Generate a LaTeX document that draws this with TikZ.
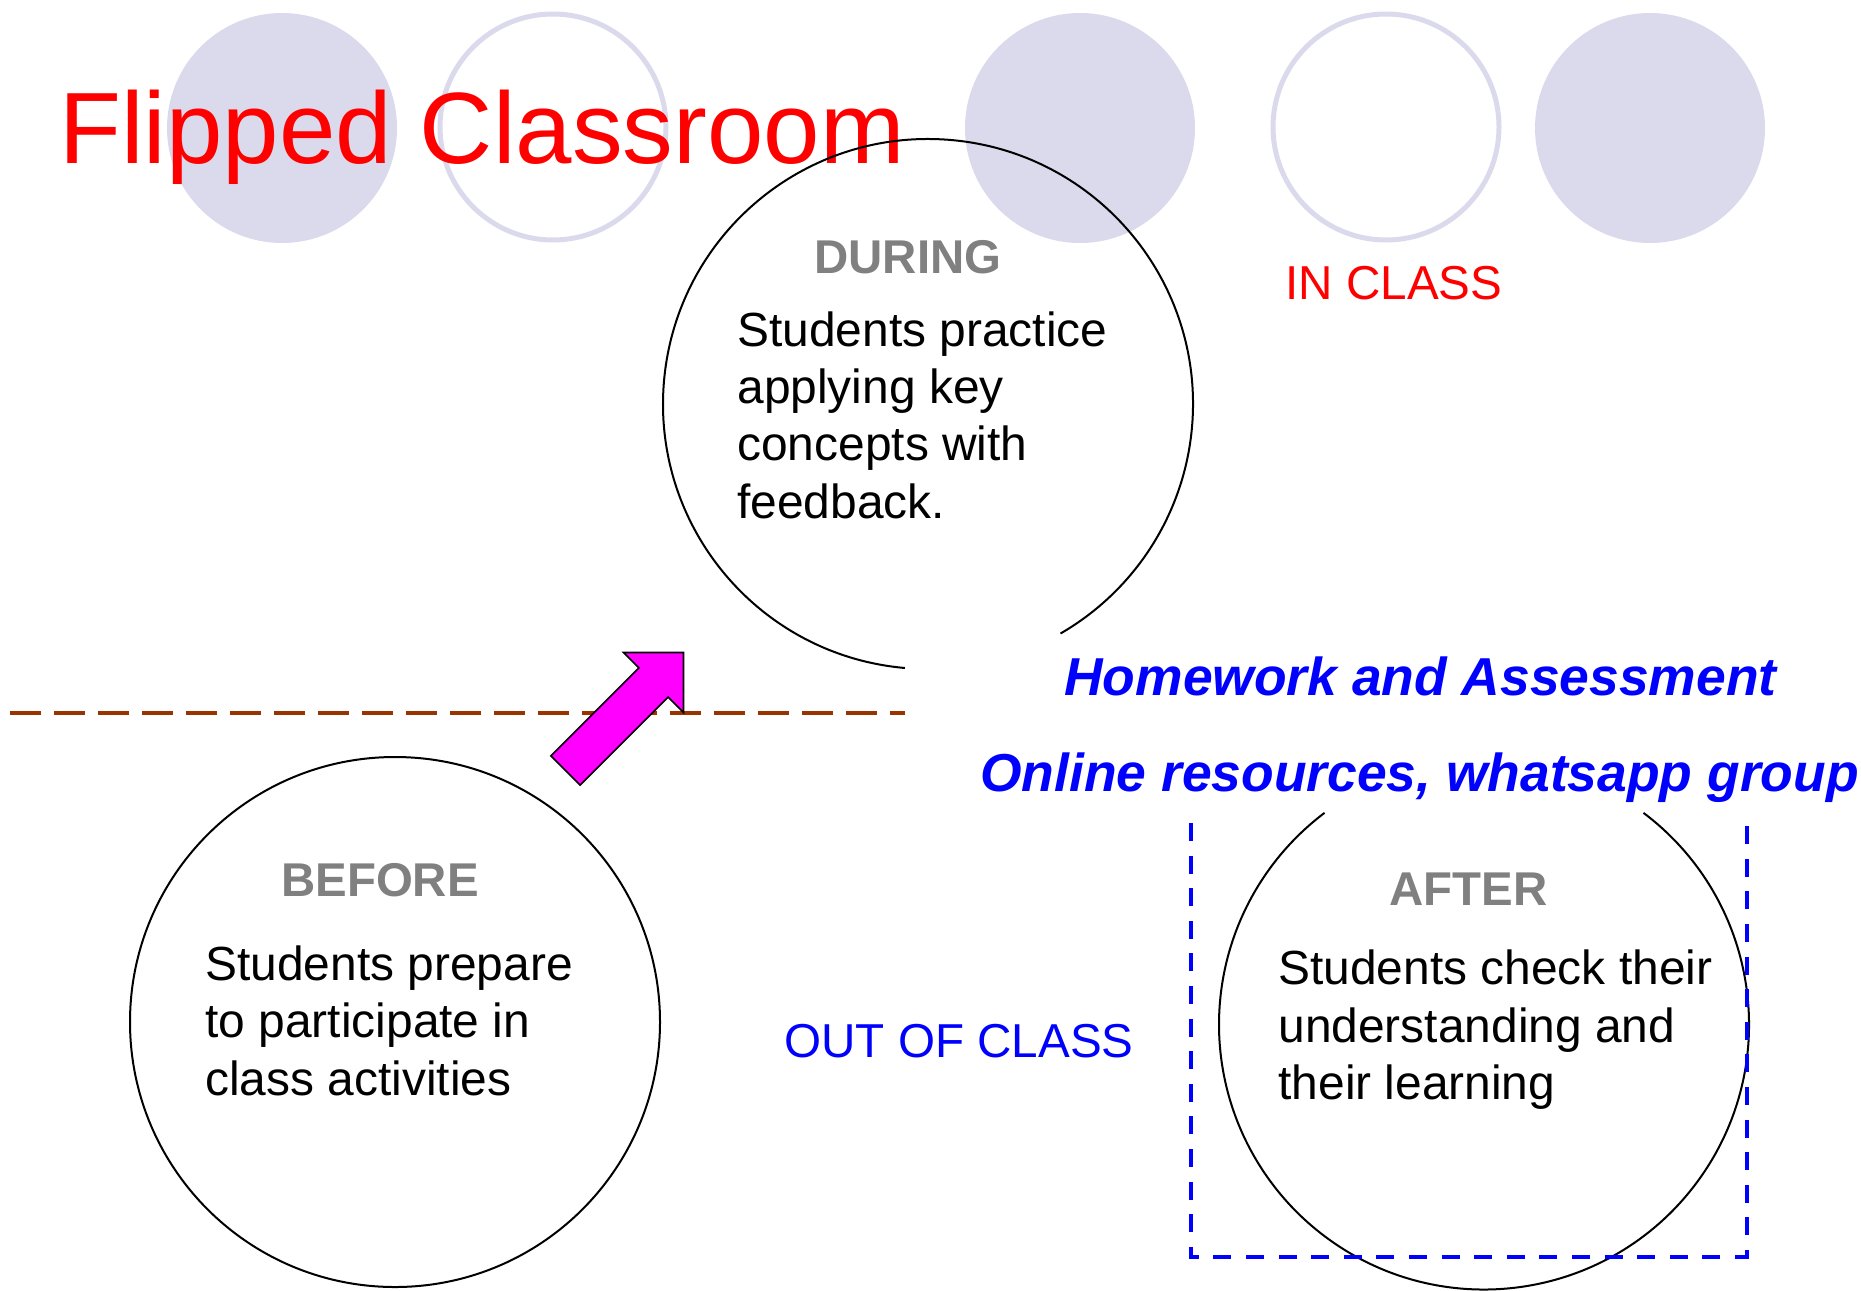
\documentclass[tikz,border=0pt]{standalone}
\usepackage{fontspec}
\setmainfont{Liberation Sans}
\definecolor{lavender}{RGB}{218,218,236}
\definecolor{tagGray}{RGB}{128,128,128}
\definecolor{rust}{RGB}{153,51,0}
\definecolor{pinkish}{RGB}{255,0,255}

\begin{document}
\begin{tikzpicture}[x=0.5pt, y=-0.5pt]
\tikzstyle{dot} = [fill=lavender]
\tikzstyle{ring} = [draw=lavender, line width=2.5pt]
\tikzstyle{phase} = [draw=black, line width=1pt]
\tikzstyle{tag} = [inner sep=0, anchor=base, text=tagGray, font=\fontsize{23.7}{28.6}\selectfont\bfseries]
% multi-line nodes sit on the baseline of their last line
\tikzstyle{body} = [inner sep=0, anchor=base west, align=left, font=\fontsize{23.95}{28.65}\selectfont]
\tikzstyle{where} = [inner sep=0, anchor=base west, font=\fontsize{23.8}{28.6}\selectfont]
\tikzstyle{extra} = [inner sep=0, anchor=base west, text=blue, font=\fontsize{26.7}{32}\selectfont\bfseries\itshape]
\tikzstyle{divider} = [draw=rust, line width=2pt, dash pattern=on 15.8pt off 6.2pt]
\tikzstyle{outside} = [draw=blue, line width=2pt, dash pattern=on 9pt off 7.3pt]
\tikzstyle{bigarrow} = [fill=pinkish, draw=black, line width=0.8pt]
\useasboundingbox (0,0) rectangle (1861,1290);

% dots along the top
\fill[dot] (282,128) circle (115);
\draw[ring] (553,127) circle (113);
\fill[dot] (1080,128) circle (115);
\draw[ring] (1386,127) circle (113);
\fill[dot] (1650,128) circle (115);

\node[inner sep=0, anchor=base west, text=red, font=\fontsize{50.7}{60}\selectfont] (title) at (59,163) {Flipped Classroom};

% the three phases
\coordinate (during) at (928,404);
\coordinate (before) at (395,1022);
\coordinate (after) at (1484,1024.5);
\draw[phase] ([shift={(95:265)}]during) arc[start angle=95, end angle=420, radius=265];
\draw[phase] (before) circle (265);
\draw[phase] ([shift={(-53:265)}]after) arc[start angle=-53, end angle=233, radius=265];

\node[tag] (during tag) at (908,273) {DURING};
\node[body] (during text) at (737,518) {Students practice\\applying key\\concepts with\\feedback.};
\node[tag] (before tag) at (380,896) {BEFORE};
\node[body] (before text) at (205,1095) {Students prepare\\to participate in\\class activities};
\node[tag] (after tag) at (1468.5,905.5) {AFTER};
\node[body] (after text) at (1278,1099.5) {Students check their\\understanding and\\their learning};

\node[where, text=red] (in class) at (1285,299) {IN CLASS};
\node[where, text=blue] (out class) at (784,1057) {OUT OF CLASS};

% class / home split
\coordinate (rule a) at (9.5,713);
\coordinate (rule b) at (905,713);
\draw[divider] (rule a) -- (rule b);

\fill[bigarrow] (550.9,755.9) -- (638.9,667.9) -- (623.5,652.5) -- (683.5,652.5)
  -- (683.5,712.5) -- (668.1,697.1) -- (580.1,785.1) -- cycle;

% homework box
\draw[outside] (1190.5,823) -- (1190.5,1256.5) -- (1746.5,1256.5) -- (1746.5,823);
\node[extra] (homework) at (1064,695) {Homework and Assessment};
\node[extra] (online) at (980,791) {Online resources, whatsapp group};
\end{tikzpicture}
\end{document}
